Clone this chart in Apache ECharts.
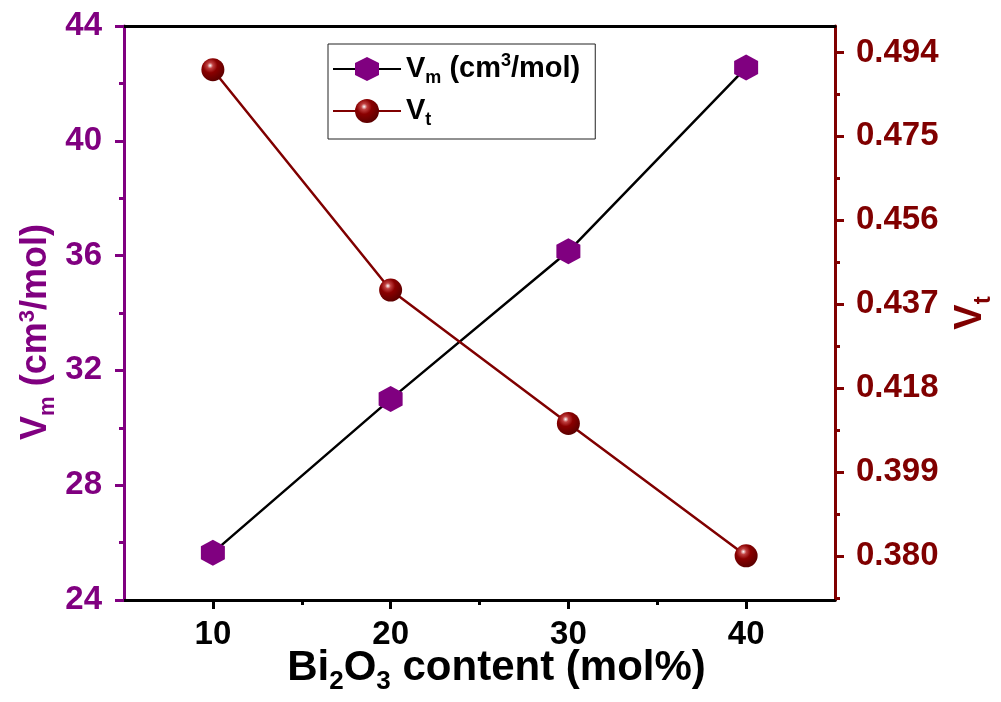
<!DOCTYPE html>
<html>
<head>
<meta charset="utf-8">
<script src="https://cdn.jsdelivr.net/npm/echarts@6/dist/echarts.min.js"></script>
<style>
html,body{margin:0;padding:0;background:#fff;}
#chart{width:1001px;height:702px;}
</style>
</head>
<body>
<div id="chart"></div>
<script>
// ---- data ----
const xValues = [10, 20, 30, 40];
const vmValues = [25.65, 31.0, 36.15, 42.55];
const vtValues = [0.4901, 0.4402, 0.4100, 0.3800];
const xTickLabels = [10, 20, 30, 40];
const xMinorTicks = [15, 25, 35];
const vtTickLabels = [0.380, 0.399, 0.418, 0.437, 0.456, 0.475, 0.494];
const vtMinorTicks = [0.3705, 0.3895, 0.4085, 0.4275, 0.4465, 0.4655, 0.4845];

const PURPLE = '#800080';
const MAROON = '#800000';
const FONT = '"Liberation Sans", Arial, sans-serif';

function richSet(size, color) {
  const s = Math.round(size * 0.62);
  return {
    b: { fontSize: size, fontWeight: 'bold', color: color, fontFamily: FONT, lineHeight: Math.round(size * 1.25) },
    sub: { fontSize: s, fontWeight: 'bold', color: color, fontFamily: FONT,
           lineHeight: s, padding: [s, 0, 0, 0] },
    sup: { fontSize: s, fontWeight: 'bold', color: color, fontFamily: FONT,
           lineHeight: s, padding: [0, 0, Math.round(size * 0.5), 0] }
  };
}

const ballColor = {
  type: 'radial', x: 0.38, y: 0.32, r: 0.7,
  colorStops: [
    { offset: 0, color: '#ffffff' },
    { offset: 0.18, color: '#c04040' },
    { offset: 0.45, color: '#8a0000' },
    { offset: 1, color: '#5a0000' }
  ]
};
const hexPath = 'path://M50,0 L93.3,25 L93.3,75 L50,100 L6.7,75 L6.7,25 Z';

const chart = echarts.init(document.getElementById('chart'));
const option = {
  animation: false,
  backgroundColor: '#fff',
  grid: { left: 124, right: 166, top: 26, bottom: 102, containLabel: false, outerBoundsMode: 'none' },
  legend: {
    orient: 'vertical',
    left: 328, top: 44,
    padding: [7, 15, 10, 4],
    itemGap: 6,
    itemWidth: 68, itemHeight: 30,
    borderColor: '#222', borderWidth: 1,
    textStyle: { rich: richSet(29, '#000') },
    formatter: function (name) {
      if (name === 'Vm') return '{b|V}{sub|m}{b| (cm}{sup|3}{b|/mol)}';
      return '{b|V}{sub|t}';
    },
    data: ['Vm', 'Vt']
  },
  xAxis: [
    {
      type: 'value', min: 5, max: 45, position: 'bottom',
      name: '{b|Bi}{sub|2}{b|O}{sub|3}{b| content (mol%)}',
      nameLocation: 'middle', nameGap: 42, nameMoveOverlap: false,
      nameTextStyle: { rich: richSet(42, '#000'), padding: [0, 0, 0, 34] },
      axisLine: { show: true, onZero: false, lineStyle: { color: '#000', width: 3 } },
      axisTick: { show: true, inside: false, length: 9, lineStyle: { color: '#000', width: 3 }, customValues: xTickLabels },
      axisLabel: { show: true, margin: 18, color: '#000', fontSize: 33, fontWeight: 'bold', fontFamily: FONT, customValues: xTickLabels },
      splitLine: { show: false }
    },
    {
      type: 'value', min: 5, max: 45, position: 'bottom', offset: 0,
      axisLine: { show: false },
      axisTick: { show: true, inside: false, length: 5, lineStyle: { color: '#000', width: 3 }, customValues: xMinorTicks },
      axisLabel: { show: false },
      splitLine: { show: false }
    },
    {
      type: 'value', min: 5, max: 45, position: 'top',
      axisLine: { show: true, onZero: false, lineStyle: { color: '#000', width: 3 } },
      axisTick: { show: false }, axisLabel: { show: false }, splitLine: { show: false }
    }
  ],
  yAxis: [
    {
      type: 'value', min: 24, max: 44, interval: 4, position: 'left',
      name: '{b|V}{sub|m}{b| (cm}{sup|3}{b|/mol)}',
      nameLocation: 'middle', nameGap: 65, nameRotate: 90, nameMoveOverlap: false,
      nameTextStyle: { rich: richSet(36, PURPLE), padding: [0, 38, 0, 0] },
      axisLine: { show: true, onZero: false, lineStyle: { color: PURPLE, width: 3 } },
      axisTick: { show: true, inside: false, length: 9, lineStyle: { color: PURPLE, width: 3 } },
      minorTick: { show: true, splitNumber: 2, length: 5, lineStyle: { color: PURPLE, width: 3 } },
      axisLabel: { margin: 22, color: PURPLE, fontSize: 33, fontWeight: 'bold', fontFamily: FONT },
      splitLine: { show: false }
    },
    {
      type: 'value', min: 0.370, max: 0.500, position: 'right',
      name: '{b|V}{sub|t}',
      nameLocation: 'middle', nameGap: 112, nameRotate: 90, nameMoveOverlap: false,
      nameTextStyle: { rich: richSet(38, MAROON) },
      axisLine: { show: true, onZero: false, lineStyle: { color: MAROON, width: 3 } },
      axisTick: { show: true, inside: false, length: 9, lineStyle: { color: MAROON, width: 3 }, customValues: vtTickLabels },
      axisLabel: { margin: 21, color: MAROON, fontSize: 33, fontWeight: 'bold', fontFamily: FONT,
                   customValues: vtTickLabels, formatter: function (v) { return v.toFixed(3); } },
      splitLine: { show: false }
    },
    {
      type: 'value', min: 0.370, max: 0.500, position: 'right', offset: 0,
      axisLine: { show: false },
      axisTick: { show: true, inside: false, length: 5, lineStyle: { color: MAROON, width: 3 }, customValues: vtMinorTicks },
      axisLabel: { show: false },
      splitLine: { show: false }
    }
  ],
  series: [
    {
      name: 'Vm', type: 'line', xAxisIndex: 0, yAxisIndex: 0,
      data: xValues.map((x, i) => [x, vmValues[i]]),
      symbol: hexPath, symbolSize: [24, 26],
      itemStyle: { color: PURPLE },
      lineStyle: { color: '#000', width: 2.5 },
      z: 3
    },
    {
      name: 'Vt', type: 'line', xAxisIndex: 0, yAxisIndex: 1,
      data: xValues.map((x, i) => [x, vtValues[i]]),
      symbol: 'circle', symbolSize: 23,
      itemStyle: { color: ballColor },
      lineStyle: { color: MAROON, width: 2.5 },
      z: 3
    }
  ]
};
chart.setOption(option);
</script>
</body>
</html>
